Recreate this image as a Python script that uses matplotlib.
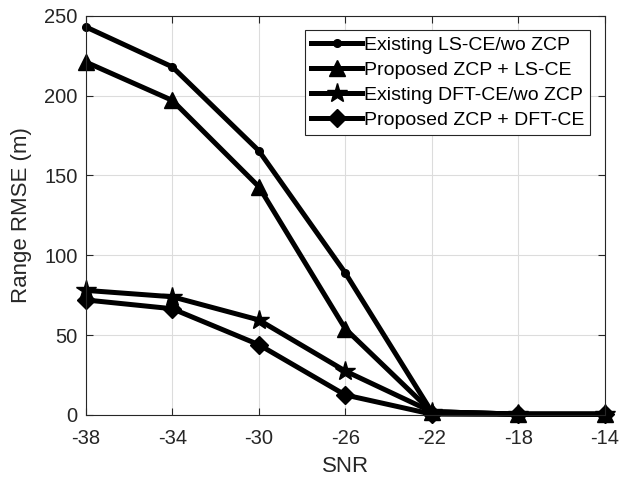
import matplotlib
matplotlib.use('Agg')
import matplotlib.pyplot as plt

plt.rcParams['font.family'] = ['Liberation Sans', 'DejaVu Sans']
plt.rcParams['axes.unicode_minus'] = False

# data
snr = [-38, -34, -30, -26, -22, -18, -14]
ls_wo_zcp = [243, 218, 165.5, 89, 2, 0.5, 0.5]
zcp_ls = [221, 197, 143, 54, 2, 0.5, 0.5]
dft_wo_zcp = [78, 74, 59.5, 27.5, 2, 0.5, 0.5]
zcp_dft = [72, 66.5, 44, 12.5, 0.5, 0.3, 0.3]

labels = ['Existing LS-CE/wo ZCP', 'Proposed ZCP + LS-CE',
          'Existing DFT-CE/wo ZCP', 'Proposed ZCP + DFT-CE']

fig = plt.figure(figsize=(6.22, 4.78), dpi=100)
ax = fig.add_axes([0.138, 0.132, 0.834, 0.835])

lw = 3.6
ax.plot(snr, ls_wo_zcp, 'k-', marker='o', ms=5.5, lw=lw, clip_on=False, label=labels[0])
ax.plot(snr, zcp_ls, 'k-', marker='^', ms=12, lw=lw, clip_on=False, label=labels[1])
ax.plot(snr, dft_wo_zcp, 'k-', marker='*', ms=15, lw=lw, clip_on=False, label=labels[2])
ax.plot(snr, zcp_dft, 'k-', marker='D', ms=9, lw=lw, clip_on=False, label=labels[3])

ax.set_xlim(-38, -14)
ax.set_ylim(0, 250)
ax.set_xticks(snr)
ax.set_yticks([0, 50, 100, 150, 200, 250])
ax.grid(True, color='#dcdcdc', lw=0.8)
ax.set_axisbelow(True)
ax.tick_params(direction='in', top=True, right=True, labelsize=14.5, length=5,
               color='#262626', labelcolor='#262626')
ax.tick_params(axis='x', pad=10)
ax.tick_params(axis='y', pad=6)
for s in ax.spines.values():
    s.set_color('#262626')
    s.set_linewidth(0.8)

ax.set_xlabel('SNR', fontsize=16, color='#262626', labelpad=6)
ax.set_ylabel('Range RMSE (m)', fontsize=16, color='#262626', labelpad=9)

leg = ax.legend(loc='upper right', fontsize=14, fancybox=False, framealpha=1,
                edgecolor='#262626', handlelength=2.6, handletextpad=0.1,
                borderpad=0.3, labelspacing=0.38, borderaxespad=0.75)
leg.get_frame().set_linewidth(0.8)

fig.savefig('out.png', dpi=100)
